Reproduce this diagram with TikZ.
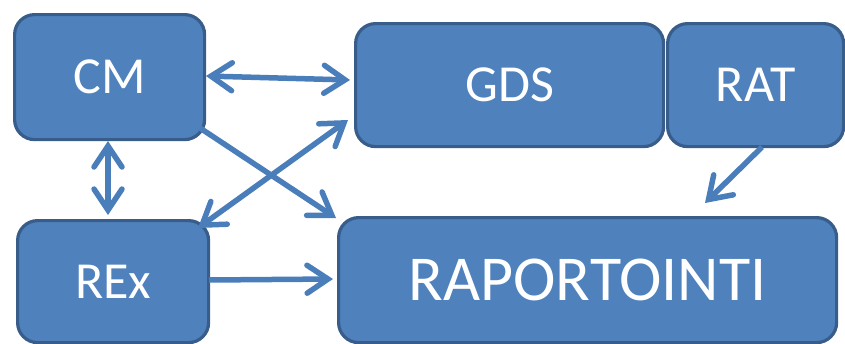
\documentclass[tikz,border=0pt]{standalone}
\usepackage{fontspec}
\setmainfont{Carlito}
\usetikzlibrary{arrows.meta}
\definecolor{boxfill}{HTML}{4F81BD}
\definecolor{boxline}{HTML}{385D8A}
\definecolor{arrowcol}{HTML}{4A7EBB}
\begin{document}
\begin{tikzpicture}[x=1pt,y=-1pt,
  blk/.style={draw=boxline, line width=3.2pt, fill=boxfill, rounded corners=20pt,
    text=white, inner sep=0pt, anchor=north west, font=\fontsize{52}{52}\selectfont},
  tip/.style={Straight Barb[length=21pt,width=28pt,line cap=round]},
  conn/.style={draw=arrowcol, line width=5.5pt, arrows={-Straight Barb[length=21pt,width=28pt,line cap=round]}},
  both/.style={conn, arrows={Straight Barb[length=21pt,width=28pt,line cap=round]-Straight Barb[length=21pt,width=28pt,line cap=round]}}]
\useasboundingbox (0,0) rectangle (845,343);
\node[blk, minimum width=190pt, minimum height=125pt] (cm) at (13,13) {CM};
\node[blk, minimum width=308pt, minimum height=123pt] (gds) at (354,22) {GDS};
\node[blk, minimum width=176pt, minimum height=123pt] (rat) at (666,22) {RAT};
\node[blk, minimum width=191pt, minimum height=122pt] (rex) at (16,219) {REx};
\node[blk, minimum width=498pt, minimum height=125pt, font=\fontsize{64}{64}\selectfont] (rap) at (337,216) {RAPORTOINTI};
% connectors
\coordinate (cmr) at (206,76);
\coordinate (gdsl) at (350,80);
\draw[both] (cmr) -- (gdsl);
\coordinate (cmb) at (108,141);
\coordinate (rext) at (108,215);
\draw[both] (cmb) -- (rext);
\coordinate (cmse) at (200,128);
\coordinate (rapnw) at (336,218);
\draw[conn] (cmse) -- (rapnw);
\coordinate (rexne) at (198,228);
\coordinate (gdssw) at (348,120);
\draw[both] (rexne) -- (gdssw);
\coordinate (rexe) at (209,280);
\coordinate (rapw) at (333,279);
\draw[conn] (rexe) -- (rapw);
\coordinate (ratb) at (762,147);
\coordinate (raptop) at (705,203);
\draw[conn] (ratb) -- (raptop);
\end{tikzpicture}
\end{document}
